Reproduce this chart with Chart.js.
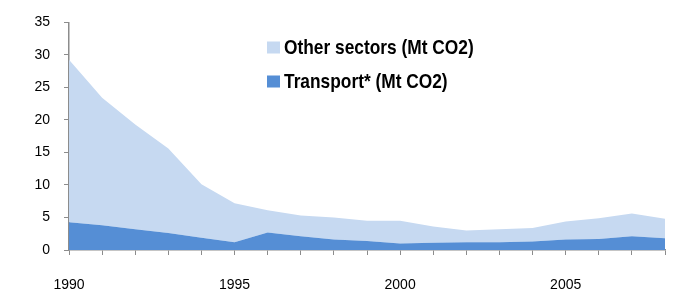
<!DOCTYPE html>
<html>
<head>
<meta charset="utf-8">
<script src="https://cdn.jsdelivr.net/npm/chart.js@4"></script>
<style>
  body { margin: 0; background: #fff; }
  #wrap { width: 675px; height: 294px; }
</style>
</head>
<body>
<div id="wrap"><canvas id="co2Chart"></canvas></div>
<script>
const years = ['1990','1991','1992','1993','1994','1995','1996','1997','1998','1999',
               '2000','2001','2002','2003','2004','2005','2006','2007','2008'];
const transport = [4.25, 3.8, 3.2, 2.6, 1.9, 1.2, 2.7, 2.1, 1.6, 1.4,
                   1.0, 1.1, 1.2, 1.2, 1.3, 1.6, 1.7, 2.1, 1.8];
const otherSectors = [25.0, 19.6, 16.1, 13.0, 8.2, 6.0, 3.4, 3.2, 3.4, 3.1,
                      3.5, 2.5, 1.8, 2.0, 2.1, 2.8, 3.2, 3.5, 3.0];
const yTicks = [0, 5, 10, 15, 20, 25, 30, 35];

const legendItems = [
  { label: 'Other sectors (Mt CO2)', color: '#C6D9F1' },
  { label: 'Transport* (Mt CO2)', color: '#558ED5' }
];

// legend is drawn by hand, it sits inside the plot area
// text squeezed a bit since there is no narrow font installed
const boxLegend = {
  id: 'boxLegend',
  afterDraw(chart) {
    const ctx = chart.ctx;
    ctx.save();
    legendItems.forEach((item, i) => {
      const cy = 47.5 + i * 34;
      ctx.fillStyle = item.color;
      ctx.fillRect(267, cy - 6, 13, 12);
      ctx.save();
      ctx.translate(284, cy + 1);
      ctx.scale(0.825, 1);
      ctx.fillStyle = '#000';
      ctx.font = 'bold 21px "Liberation Sans", Arial, sans-serif';
      ctx.textBaseline = 'middle';
      ctx.fillText(item.label, 0, 0);
      ctx.restore();
    });
    ctx.restore();
  }
};

const axisColor = '#8c8c8c';
const tickFont = { family: '"Liberation Sans", Arial, sans-serif', size: 14 };

new Chart(document.getElementById('co2Chart'), {
  type: 'line',
  data: {
    labels: years,
    datasets: [
      {
        label: 'Transport* (Mt CO2)',
        data: transport,
        backgroundColor: '#558ED5',
        borderWidth: 0,
        pointRadius: 0,
        fill: 'origin'
      },
      {
        label: 'Other sectors (Mt CO2)',
        data: otherSectors,
        backgroundColor: '#C6D9F1',
        borderWidth: 0,
        pointRadius: 0,
        fill: '-1'
      }
    ]
  },
  options: {
    responsive: true,
    maintainAspectRatio: false,
    animation: false,
    layout: { padding: { top: 18, right: 10, left: 0, bottom: 0 } },
    plugins: {
      legend: { display: false },
      tooltip: { enabled: false }
    },
    scales: {
      x: {
        offset: false,
        grid: { drawOnChartArea: false, color: axisColor, tickLength: 5 },
        border: { color: axisColor, width: 1.5 },
        ticks: {
          autoSkip: false,
          maxRotation: 0,
          color: '#000',
          font: tickFont,
          padding: 22,
          callback: function (v, i) {
            const y = years[i];
            return Number(y) % 5 === 0 ? y : '';
          }
        },
        afterFit: s => { s.height = 44; s.paddingLeft = 0; s.paddingRight = 0; }
      },
      y: {
        stacked: true,
        min: 0,
        max: 35,
        afterBuildTicks: s => { s.ticks = yTicks.map(v => ({ value: v })); },
        grid: { drawOnChartArea: false, color: axisColor, tickLength: 5 },
        border: { color: axisColor, width: 1.5 },
        ticks: { color: '#000', font: tickFont, padding: 14 },
        afterFit: s => { s.width = 69; }
      }
    }
  },
  plugins: [boxLegend]
});
</script>
</body>
</html>
